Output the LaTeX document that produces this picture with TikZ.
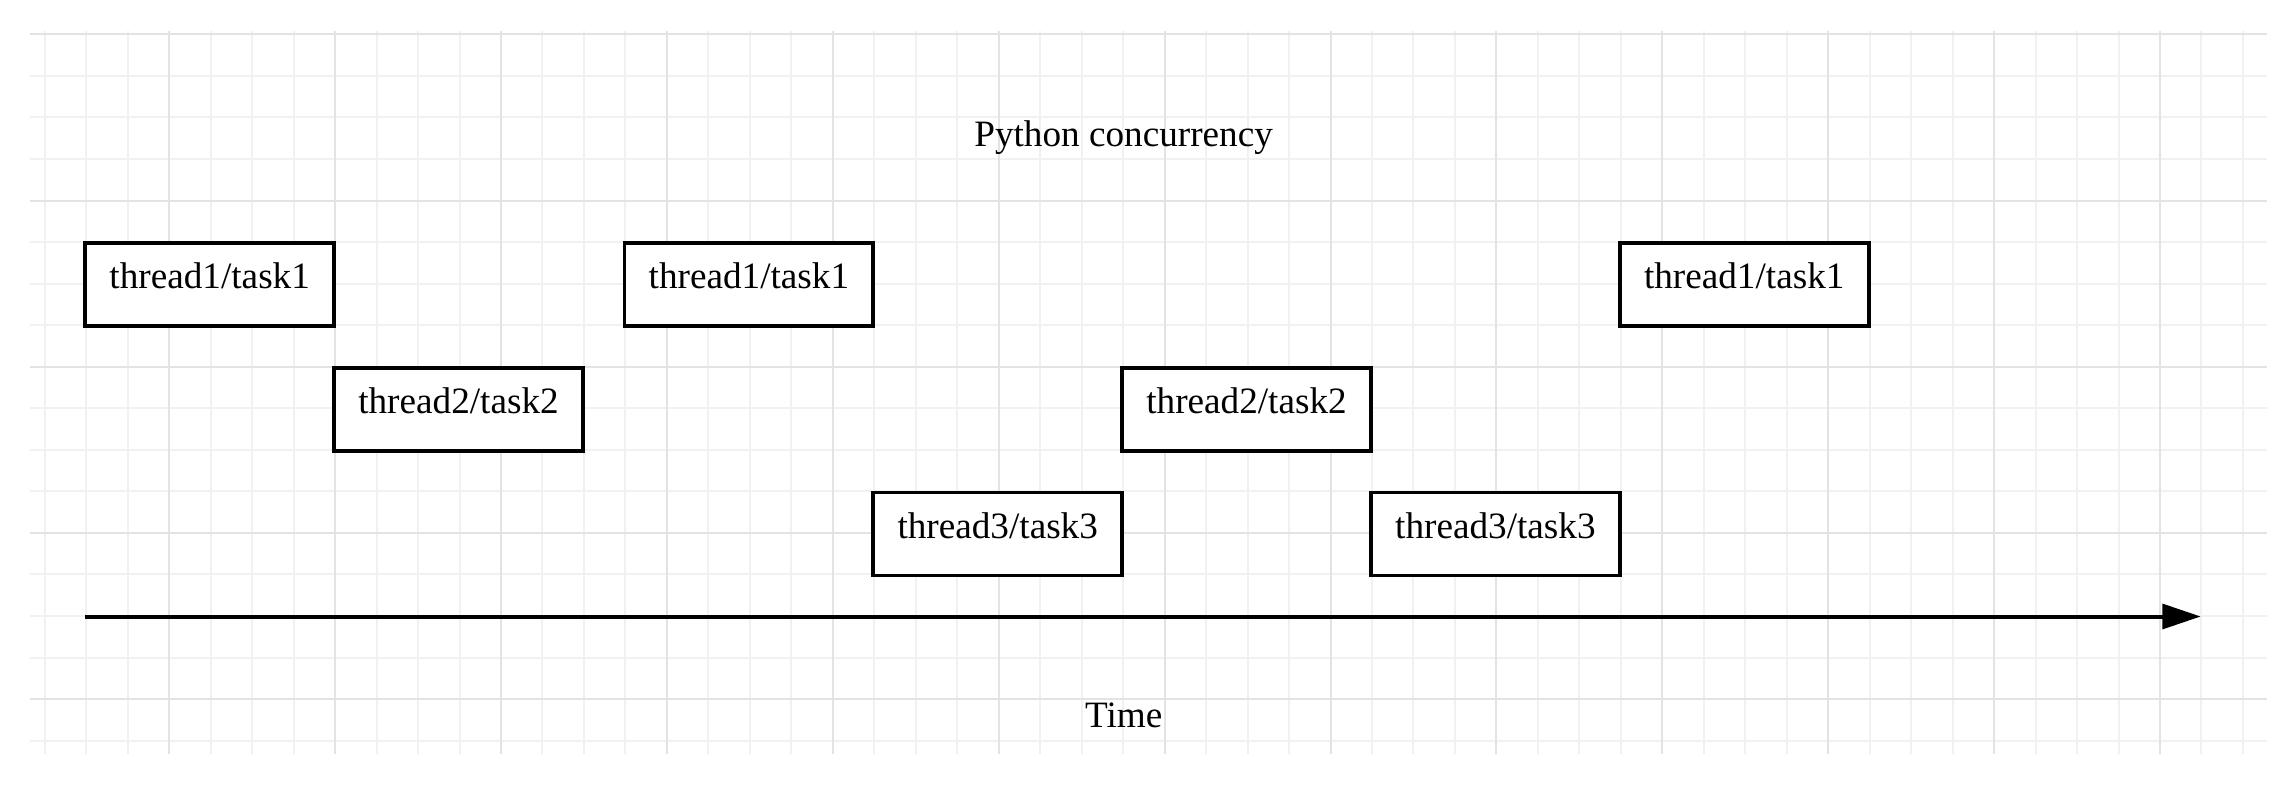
\documentclass[tikz,border=0pt]{standalone}
\usepackage{fontspec}
\setmainfont{Liberation Serif}
\usetikzlibrary{arrows.meta}
\definecolor{minorgrid}{HTML}{F1F1F1}
\definecolor{majorgrid}{HTML}{E3E3E3}
\begin{document}
\begin{tikzpicture}[x=0.5pt,y=-0.5pt,
  minorline/.style={draw=minorgrid,line width=1pt},
  majorline/.style={draw=majorgrid,line width=1pt},
  taskbox/.style={draw=black,line width=1.9pt,fill=white,minimum width=124.4pt,minimum height=41.5pt,inner sep=0pt,
    font=\fontsize{18.6pt}{22pt}\selectfont,text height=0.7em,text depth=0.27em},
  label/.style={font=\fontsize{18.6pt}{22pt}\selectfont,inner sep=0pt,anchor=base},
  timeline/.style={line width=2pt,-{Triangle[length=19.2pt,width=12.4pt]}}]
\useasboundingbox (0,0) rectangle (2290,798);
\fill[white] (0,0) rectangle (2290,798);
% grid
\foreach \k in {0,...,53}{
  \pgfmathsetmacro\xx{44.8+41.474*\k}
  \draw[minorline] (\xx,31) -- (\xx,754);
}
\foreach \j in {0,...,17}{
  \pgfmathsetmacro\yy{34.3+41.553*\j}
  \draw[minorline] (30,\yy) -- (2267,\yy);
}
\foreach \k in {3,7,...,51}{
  \pgfmathsetmacro\xx{44.8+41.474*\k}
  \draw[majorline] (\xx,31) -- (\xx,754);
}
\foreach \j in {0,4,...,16}{
  \pgfmathsetmacro\yy{34.3+41.553*\j}
  \draw[majorline] (30,\yy) -- (2267,\yy);
}
% title and axis label
\node[label] (title) at (1123.6,146.7) {Python concurrency};
\node[label] (time) at (1123.7,727.7) {Time};
% tasks
\node[taskbox] (t1a) at (209.7,284.6) {thread1/task1};
\node[taskbox] (t2a) at (458.5,409.3) {thread2/task2};
\node[taskbox] (t1b) at (748.9,284.6) {thread1/task1};
\node[taskbox] (t3a) at (997.7,534.0) {thread3/task3};
\node[taskbox] (t2b) at (1246.5,409.3) {thread2/task2};
\node[taskbox] (t3b) at (1495.4,534.0) {thread3/task3};
\node[taskbox] (t1c) at (1744.2,284.6) {thread1/task1};
% time axis
\coordinate (ts) at (85,616.5);
\coordinate (te) at (2200.7,616.5);
\draw[timeline] (ts) -- (te);
\end{tikzpicture}
\end{document}
